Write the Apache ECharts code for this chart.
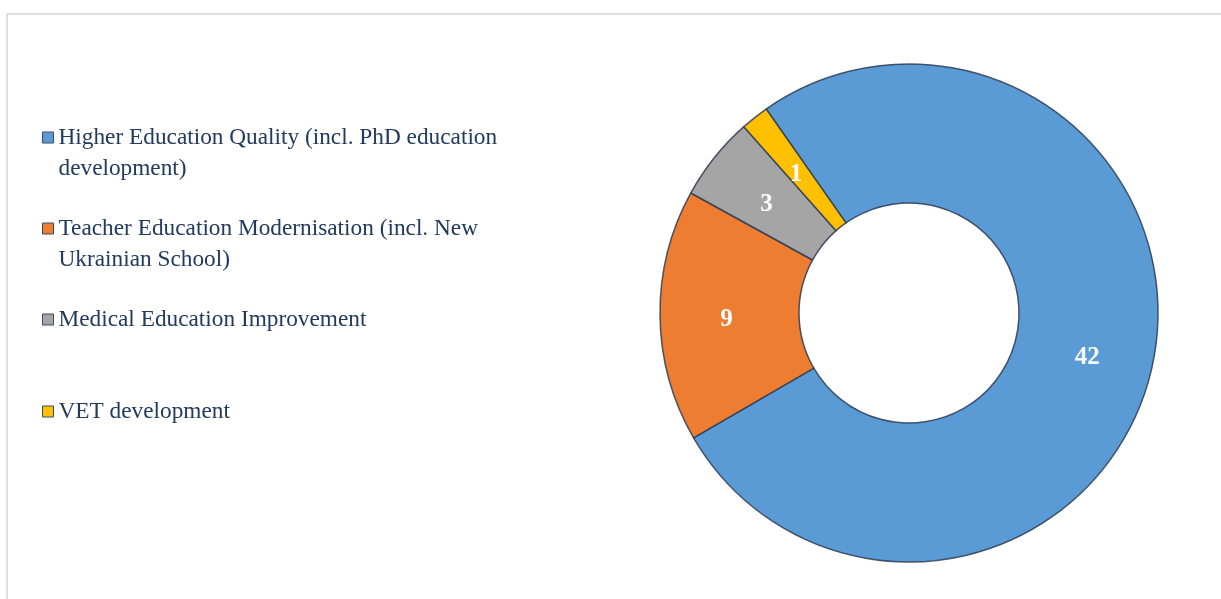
<!DOCTYPE html>
<html>
<head>
<meta charset="utf-8">
<script src="https://cdn.jsdelivr.net/npm/echarts@6/dist/echarts.min.js"></script>
<style>
  html, body { margin: 0; padding: 0; background: #fff; overflow: hidden; }
  #frame {
    position: absolute; left: 6px; top: 13px; width: 1400px; height: 800px;
    border-left: 2px solid #dfdfdf; border-top: 2px solid #dfdfdf;
  }
  #chart { position: absolute; left: 0; top: 0; width: 1221px; height: 599px; }
</style>
</head>
<body>
<div id="frame"></div>
<div id="chart"></div>
<script>
// data
const categories = [
  'Higher Education Quality (incl. PhD education\ndevelopment)',
  'Teacher Education Modernisation (incl. New\nUkrainian School)',
  'Medical Education Improvement',
  'VET development'
]
const values = [42, 9, 3, 1]
const colors = ['#5B9BD5', '#ED7D31', '#A5A5A5', '#FFC000']

const legendTops = [91, 182, 304, 396]

const chart = echarts.init(document.getElementById('chart'))

// one legend per entry so each row sits where it does in the picture;
// a blank first line keeps the icon level with the first text line
const legends = categories.map((name, i) => {
  const twoLines = name.indexOf('\n') >= 0
  return {
    data: [{ name: name, icon: 'rect', itemStyle: { borderColor: '#3a4a66', borderWidth: 1 } }],
    orient: 'vertical',
    left: 42,
    top: legendTops[i],
    padding: 0,
    itemWidth: 11,
    itemHeight: 11,
    selectedMode: false,
    formatter: n => (twoLines ? ' \n' + n : n),
    textStyle: {
      fontFamily: 'Liberation Serif',
      fontSize: 23.3,
      lineHeight: 31,
      color: '#223a5e'
    }
  }
})

chart.setOption({
  animation: false,
  color: colors,
  legend: legends,
  series: [
    {
      type: 'pie',
      center: [909, 313],
      radius: [110, 249],
      startAngle: 125,
      clockwise: true,
      avoidLabelOverlap: false,
      itemStyle: {
        borderColor: 'rgba(45, 60, 85, 0.85)',
        borderWidth: 1.5
      },
      label: {
        show: true,
        position: 'inside',
        formatter: '{c}',
        offset: [0, 5],
        color: '#fff',
        fontFamily: 'Liberation Serif',
        fontWeight: 'bold',
        fontSize: 25
      },
      labelLine: { show: false },
      emphasis: { disabled: true },
      data: categories.map((name, i) => ({ name: name, value: values[i] }))
    }
  ]
})
</script>
</body>
</html>
